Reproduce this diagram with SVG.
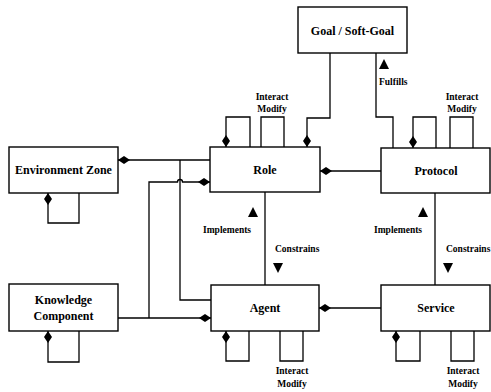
<svg xmlns="http://www.w3.org/2000/svg" width="491" height="392" viewBox="0 0 491 392">
<style>
.box{fill:#fff;stroke:#000;stroke-width:1.4}
.ln{fill:none;stroke:#000;stroke-width:1.3}
.t{font-family:"Liberation Serif","Times New Roman",serif;font-weight:bold;font-size:12px;text-anchor:middle;fill:#000}
.s{font-family:"Liberation Serif","Times New Roman",serif;font-weight:bold;font-size:9.5px;fill:#000}
.m{text-anchor:middle}
.d{fill:#000}
</style>
<rect width="491" height="392" fill="#fff"/>
<g id="connectors">
  <!-- Environment Zone to Role -->
  <path class="ln" d="M118,160 H210"/>
  <path class="d" d="M118,160 l6,-4 l6,4 l-6,4z"/>
  <!-- x=180 vertical to Agent -->
  <path class="ln" d="M180,160 V300 H211"/>
  <!-- x=149 vertical from Role left to KC line -->
  <path class="ln" d="M149,318 V182 H177.5 a2.5,2.5 0 0 1 5,0 H210"/>
  <path class="d" d="M210,182 l-6,-4 l-6,4 l6,4z"/>
  <!-- Knowledge Component to Agent -->
  <path class="ln" d="M118,318 H211"/>
  <path class="d" d="M211,318 l-6,-4 l-6,4 l6,4z"/>
  <!-- Env loop -->
  <path class="ln" d="M48,193 V223 H79 V193"/>
  <path class="d" d="M48,193 l-4,6 l4,6 l4,-6z"/>
  <!-- KC loop -->
  <path class="ln" d="M48,331 V362 H79 V331"/>
  <path class="d" d="M48,331 l-4,6 l4,6 l4,-6z"/>
  <!-- Goal to Role -->
  <path class="ln" d="M330,53 V118 H307 V147"/>
  <path class="d" d="M307,147 l-4,-6 l4,-6 l4,6z"/>
  <!-- Protocol to Goal (Fulfills) -->
  <path class="ln" d="M376,53 V117 H393 V148"/>
  <path class="d" d="M384,59 l5,10 h-10z"/>
  <!-- Role top loops -->
  <path class="ln" d="M226,147 V117 H250 V147"/>
  <path class="d" d="M226,147 l-4,-6 l4,-6 l4,6z"/>
  <path class="ln" d="M261,147 V117 H284 V147"/>
  <!-- Protocol top loops -->
  <path class="ln" d="M413,148 V117 H436 V148"/>
  <path class="d" d="M413,148 l-4,-6 l4,-6 l4,6z"/>
  <path class="ln" d="M450,148 V117 H473 V148"/>
  <!-- Role - Protocol -->
  <path class="ln" d="M320,171 H381"/>
  <path class="d" d="M320,171 l6,-4 l6,4 l-6,4z"/>
  <!-- Role - Agent -->
  <path class="ln" d="M265,192 V285"/>
  <path class="d" d="M253,207 l5,10 h-10z"/>
  <path class="d" d="M278,273 l5,-10 h-10z"/>
  <!-- Protocol - Service -->
  <path class="ln" d="M435,193 V285"/>
  <path class="d" d="M423,207 l5,10 h-10z"/>
  <path class="d" d="M448,273 l5,-10 h-10z"/>
  <!-- Agent - Service -->
  <path class="ln" d="M319,308 H381"/>
  <path class="d" d="M319,308 l6,-4 l6,4 l-6,4z"/>
  <!-- Agent bottom loops -->
  <path class="ln" d="M226,331 V361 H249 V331"/>
  <path class="d" d="M226,331 l-4,6 l4,6 l4,-6z"/>
  <path class="ln" d="M280,331 V361 H303 V331"/>
  <!-- Service bottom loops -->
  <path class="ln" d="M396,331 V361 H420 V331"/>
  <path class="d" d="M396,331 l-4,6 l4,6 l4,-6z"/>
  <path class="ln" d="M451,331 V361 H474 V331"/>
  <!-- labels -->
  <text class="s" x="379" y="85">Fulfills</text>
  <text class="s m" x="272" y="100">Interact</text>
  <text class="s m" x="272" y="112">Modify</text>
  <text class="s m" x="462" y="100">Interact</text>
  <text class="s m" x="462" y="112">Modify</text>
  <text class="s" x="203" y="233">Implements</text>
  <text class="s" x="275" y="252">Constrains</text>
  <text class="s" x="374" y="233">Implements</text>
  <text class="s" x="446" y="252">Constrains</text>
  <text class="s m" x="292" y="374">Interact</text>
  <text class="s m" x="292" y="387">Modify</text>
  <text class="s m" x="463" y="374">Interact</text>
  <text class="s m" x="463" y="387">Modify</text>
</g>
<g id="goal"><rect class="box" x="298" y="7" width="109" height="46"/><text class="t" x="352.5" y="35">Goal / Soft-Goal</text></g>
<g id="env"><rect class="box" x="9" y="147" width="109" height="46"/><text class="t" x="63.5" y="174">Environment Zone</text></g>
<g id="role"><rect class="box" x="210" y="147" width="110" height="45"/><text class="t" x="265" y="174">Role</text></g>
<g id="protocol"><rect class="box" x="381" y="148" width="109" height="45"/><text class="t" x="436" y="175">Protocol</text></g>
<g id="kc"><rect class="box" x="9" y="284" width="109" height="47"/><text class="t" x="63.5" y="304">Knowledge</text><text class="t" x="63.5" y="320">Component</text></g>
<g id="agent"><rect class="box" x="211" y="285" width="108" height="46"/><text class="t" x="265" y="312">Agent</text></g>
<g id="service"><rect class="box" x="381" y="285" width="109" height="46"/><text class="t" x="436" y="312">Service</text></g>
</svg>
